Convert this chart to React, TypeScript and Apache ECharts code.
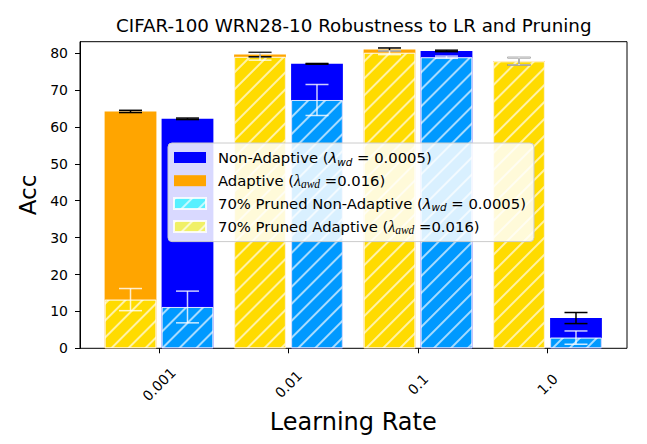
import React, { useEffect, useRef } from "react";
import * as echarts from "echarts";

// ---- data ----
const learningRates = ["0.001", "0.01", "0.1", "1.0"];
const yTicks = [0, 10, 20, 30, 40, 50, 60, 70, 80];

const adaptive = [64.2, 79.6, 81.0, 77.8];
const adaptiveErr = [0.3, 0.6, 0.4, 1.0];
const nonAdaptive = [62.2, 77.1, 80.6, 8.2];
const nonAdaptiveErr = [0.2, 0.1, 0.2, 1.5];
const prunedAdaptive = [13.2, 79.0, 80.1, 77.8];
const prunedAdaptiveErr = [3.0, 0.9, 0.5, 1.0];
const prunedNonAdaptive = [11.2, 67.3, 78.9, 2.9];
const prunedNonAdaptiveErr = [4.3, 4.2, 0.3, 1.8];

const NAME_N = "Non-Adaptive (λ_wd = 0.0005)";
const NAME_A = "Adaptive (λ_awd =0.016)";
const NAME_PN = "70% Pruned Non-Adaptive (λ_wd = 0.0005)";
const NAME_PA = "70% Pruned Adaptive (λ_awd =0.016)";

const legendRich: Record<string, string> = {
  [NAME_N]: "{t|Non-Adaptive (}{l|λ}{s|wd}{t| = 0.0005)}",
  [NAME_A]: "{t|Adaptive (}{lc|λ}{sc|awd}{t| =0.016)}",
  [NAME_PN]: "{t|70% Pruned Non-Adaptive (}{l|λ}{s|wd}{t| = 0.0005)}",
  [NAME_PA]: "{t|70% Pruned Adaptive (}{lc|λ}{sc|awd}{t| =0.016)}",
};

const FONT = "DejaVu Sans";
const Y_MAX = 83.1;
const BAR_OFFSET = 0.22; // fraction of band: (40% + 10% of 40%) / 2

const hatch = {
  symbol: "rect",
  symbolSize: 1,
  dashArrayX: [1, 0],
  dashArrayY: [1.3, 10],
  rotation: -Math.PI / 4,
  color: "rgba(255,255,255,0.65)",
};

function errSeries(
  name: string,
  means: number[],
  errs: number[],
  sign: number,
  color: string,
  z: number
) {
  return {
    type: "custom",
    name: name + " err",
    xAxisIndex: 1,
    yAxisIndex: 1,
    z,
    silent: true,
    encode: { x: 0, y: 1 },
    data: means.map((m, i) => [i, m, errs[i]]),
    renderItem: (_params: any, api: any) => {
      const cat = api.value(0);
      const mean = api.value(1);
      const err = api.value(2);
      const band = api.size([1, 0])[0];
      const cx = api.coord([cat, mean])[0] + sign * band * BAR_OFFSET;
      const yTop = api.coord([cat, mean + err])[1];
      const yBot = api.coord([cat, mean - err])[1];
      const cap = 11.5;
      const style = { stroke: color, lineWidth: 1.5 };
      return {
        type: "group",
        children: [
          { type: "line", shape: { x1: cx, y1: yTop, x2: cx, y2: yBot }, style },
          { type: "line", shape: { x1: cx - cap, y1: yTop, x2: cx + cap, y2: yTop }, style },
          { type: "line", shape: { x1: cx - cap, y1: yBot, x2: cx + cap, y2: yBot }, style },
        ],
      };
    },
  };
}

export default function App() {
  const ref = useRef<HTMLDivElement>(null);
  useEffect(() => {
    if (!ref.current) return;
    const chart = echarts.init(ref.current, null, { renderer: "svg" });
    const gridTop = 41.7;
    const gridBottom = 444 - 348.3;
    chart.setOption({
      animation: false,
      backgroundColor: "#ffffff",
      title: {
        text: "CIFAR-100 WRN28-10 Robustness to LR and Pruning",
        left: 116,
        top: 16,
        padding: 0,
        textStyle: { fontFamily: FONT, fontSize: 18.3, fontWeight: "normal", color: "#000" },
      },
      legend: {
        orient: "vertical",
        left: 168,
        top: 143,
        padding: [7, 8, 6, 5],
        itemGap: 6.2,
        itemWidth: 32,
        itemHeight: 11,
        icon: "rect",
        selectedMode: false,
        backgroundColor: "rgba(255,255,255,0.85)",
        borderColor: "#cccccc",
        borderWidth: 1,
        borderRadius: 4,
        data: [NAME_N, NAME_A, NAME_PN, NAME_PA],
        formatter: (name: string) => legendRich[name] || name,
        textStyle: {
          padding: [0, 0, 0, 7],
          rich: {
            t: { fontFamily: FONT, fontSize: 14.8, lineHeight: 18, color: "#000" },
            l: { fontFamily: FONT, fontStyle: "italic", fontSize: 14.8, lineHeight: 18, color: "#000" },
            s: { fontFamily: FONT, fontStyle: "italic", fontSize: 10.4, lineHeight: 9, verticalAlign: "bottom", color: "#000" },
            lc: { fontFamily: "Liberation Serif", fontStyle: "italic", fontSize: 16, lineHeight: 18, color: "#000" },
            sc: { fontFamily: "Liberation Serif", fontStyle: "italic", fontSize: 11.5, lineHeight: 9, verticalAlign: "bottom", color: "#000" },
          },
        },
      },
      grid: [
        {
          left: 80,
          right: 20,
          top: gridTop,
          bottom: gridBottom,
          show: true,
          borderColor: "#000",
          borderWidth: 1,
          backgroundColor: "transparent",
        },
        {
          left: 94.25,
          right: 34.75,
          top: gridTop,
          bottom: gridBottom,
        },
      ],
      xAxis: [
        { type: "value", gridIndex: 0, show: false, min: 0, max: 1 },
        {
          type: "category",
          gridIndex: 1,
          data: learningRates,
          name: "Learning Rate",
          nameLocation: "middle",
          nameGap: 56,
          nameTextStyle: { fontFamily: FONT, fontSize: 24, color: "#000" },
          axisLine: { show: false },
          axisTick: { show: true, alignWithLabel: true, length: 5, lineStyle: { color: "#000", width: 1 } },
          axisLabel: {
            rotate: 45,
            align: "center",
            verticalAlign: "middle",
            margin: 36,
            fontFamily: FONT,
            fontSize: 14,
            color: "#000",
          },
          splitLine: { show: false },
        },
        { type: "category", gridIndex: 1, data: learningRates, show: false },
      ],
      yAxis: [
        {
          type: "value",
          gridIndex: 0,
          min: 0,
          max: Y_MAX,
          name: "Acc",
          nameLocation: "middle",
          nameGap: 40,
          nameTextStyle: { fontFamily: FONT, fontSize: 23, color: "#000" },
          axisLine: { show: true, lineStyle: { color: "#000", width: 1 } },
          axisTick: { show: true, length: 5, lineStyle: { color: "#000" }, customValues: yTicks },
          axisLabel: { fontFamily: FONT, fontSize: 14, color: "#000", margin: 12, customValues: yTicks },
          splitLine: { show: false },
        },
        { type: "value", gridIndex: 1, min: 0, max: Y_MAX, show: false, splitLine: { show: false } },
      ],
      series: [
        {
          type: "bar",
          name: NAME_A,
          xAxisIndex: 1,
          yAxisIndex: 1,
          data: adaptive,
          barWidth: "40%",
          barGap: "10%",
          itemStyle: { color: "#FFA500" },
        },
        {
          type: "bar",
          name: NAME_N,
          xAxisIndex: 1,
          yAxisIndex: 1,
          data: nonAdaptive,
          barWidth: "40%",
          barGap: "10%",
          itemStyle: { color: "#0000FF" },
        },
        {
          type: "bar",
          name: NAME_PA,
          xAxisIndex: 2,
          yAxisIndex: 1,
          data: prunedAdaptive,
          barWidth: "40%",
          barGap: "10%",
          itemStyle: {
            color: "rgba(255,255,0,0.6)",
            borderColor: "rgba(255,255,255,0.6)",
            borderWidth: 1,
            decal: hatch,
          },
        },
        {
          type: "bar",
          name: NAME_PN,
          xAxisIndex: 2,
          yAxisIndex: 1,
          data: prunedNonAdaptive,
          barWidth: "40%",
          barGap: "10%",
          itemStyle: {
            color: "rgba(0,255,255,0.6)",
            borderColor: "rgba(255,255,255,0.6)",
            borderWidth: 1,
            decal: hatch,
          },
        },
        errSeries(NAME_A, adaptive, adaptiveErr, -1, "#000000", 3),
        errSeries(NAME_N, nonAdaptive, nonAdaptiveErr, 1, "#000000", 3),
        errSeries(NAME_PA, prunedAdaptive, prunedAdaptiveErr, -1, "rgba(255,255,255,0.8)", 3),
        errSeries(NAME_PN, prunedNonAdaptive, prunedNonAdaptiveErr, 1, "rgba(255,255,255,0.8)", 3),
      ],
    });
    return () => chart.dispose();
  }, []);
  return (
    <div
      ref={ref}
      style={{ position: "fixed", left: 0, top: 0, width: 647, height: 444 }}
    />
  );
}
